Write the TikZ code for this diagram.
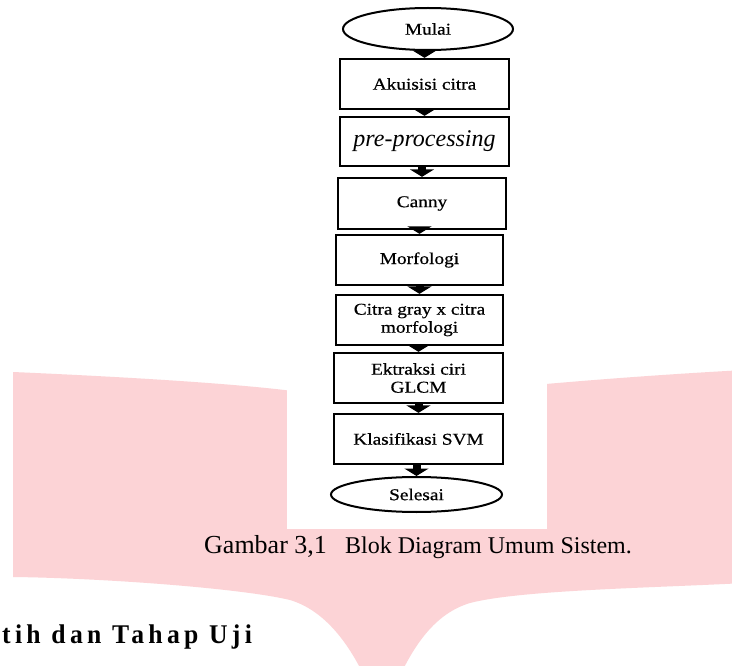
\documentclass[tikz,border=0pt]{standalone}
\usepackage{fontspec}
\setmainfont{Liberation Serif}
\newfontfamily\flowfont[FakeStretch=1.17,FakeBold=0.6]{Liberation Serif}
\newfontfamily\headfont[LetterSpace=16,FakeStretch=0.95]{Liberation Serif}
\usetikzlibrary{shapes.geometric,arrows.meta}
\definecolor{wmpink}{RGB}{252,211,214}
\tikzset{
  procbox/.style={draw=black, line width=2.3pt, rectangle, align=center, inner sep=0pt,
    font=\flowfont\fontsize{16.5}{18}\selectfont},
  termnode/.style={draw=black, line width=2pt, ellipse, inner sep=0pt,
    font=\flowfont\fontsize{16.5}{18}\selectfont},
  fatarrow/.style={line width=8pt, -{Triangle[width=24pt,length=7.5pt]}},
  captext/.style={inner sep=0pt, anchor=base west}
}
\begin{document}
\begin{tikzpicture}[x=1pt,y=-1pt]
\useasboundingbox (0,0) rectangle (732,666);
\fill[white] (0,0) rectangle (732,666);
% watermark
\fill[wmpink] (13,372) .. controls (150,378) and (250,385) .. (300,392) -- (378,400) -- (460,392)
  .. controls (550,383) and (650,375) .. (745,370) -- (745,583)
  .. controls (650,588) and (520,590) .. (470,603)
  .. controls (430,615) and (405,655) .. (382,720)
  .. controls (360,655) and (330,612) .. (290,600)
  .. controls (240,588) and (100,578) .. (13,577) -- cycle;
% white panel behind flowchart
\fill[white] (287,0) rectangle (547,529);
% nodes
\node[termnode, minimum width=170pt, minimum height=42pt] (mulai) at (428,29) {Mulai};
\node[procbox, minimum width=169pt, minimum height=50pt] (akuisisi) at (424.5,84) {Akuisisi citra};
\node[procbox, minimum width=169pt, minimum height=49pt, font=\itshape\fontsize{24}{26}\selectfont] (pre) at (424.5,141.5) {pre-processing};
\node[procbox, minimum width=168pt, minimum height=51pt] (canny) at (422,203.5) {Canny};
\node[procbox, minimum width=167pt, minimum height=50pt] (morf) at (419.5,260) {Morfologi};
\node[procbox, minimum width=167pt, minimum height=50pt] (citra) at (419.5,320) {Citra gray x citra\\morfologi};
\node[procbox, minimum width=169pt, minimum height=50pt] (ekt) at (418.5,378) {Ektraksi ciri\\GLCM};
\node[procbox, minimum width=169pt, minimum height=50pt] (klas) at (418.5,439) {Klasifikasi SVM};
\node[termnode, minimum width=171pt, minimum height=35pt] (selesai) at (416.5,494.5) {Selesai};
% arrows
\draw[fatarrow] (mulai.south -| akuisisi.north) -- (akuisisi.north);
\draw[fatarrow] (akuisisi.south -| pre.north) -- (pre.north);
\draw[fatarrow] (pre.south -| canny.north) -- (canny.north);
\draw[fatarrow] (canny.south -| morf.north) -- (morf.north);
\draw[fatarrow] (morf.south -| citra.north) -- (citra.north);
\draw[fatarrow] (citra.south -| ekt.north) -- (ekt.north);
\draw[fatarrow] (ekt.south -| klas.north) -- (klas.north);
\draw[fatarrow] (klas.south -| selesai.north) -- (selesai.north);
% caption
\node[captext, font=\fontsize{26}{28}\selectfont] (capnum) at (204,553) {Gambar 3,1};
\node[captext, font=\fontsize{24}{28}\selectfont] (captitle) at (345,553) {Blok Diagram Umum Sistem.};
% heading
\node[captext, font=\headfont\bfseries\fontsize{27}{28}\selectfont] (heading) at (2,643) {tih dan Tahap Uji};
\end{tikzpicture}
\end{document}
